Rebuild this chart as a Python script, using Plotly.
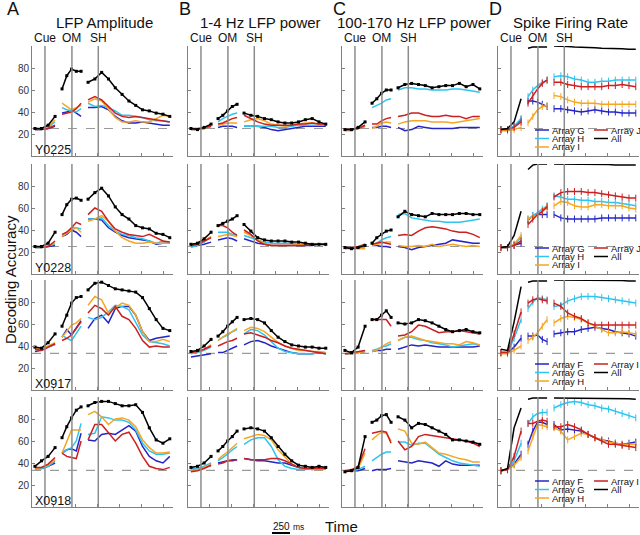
import plotly.graph_objects as go

# sample times (ms) of the three aligned epochs: cue | object movement | shape
t_cue = [40, 130, 220, 315]
t_om = [410, 475, 540, 605, 670]
t_sh = [765, 858, 951, 1044, 1137, 1230, 1323, 1416, 1509, 1602, 1695, 1788, 1881]

event_names = ['Cue', 'OM', 'SH']
event_times = [177, 545, 905]

sessions = ['Y0225', 'Y0228', 'X0917', 'X0918']
chance = [25, 25, 33.3, 33.3]
titles = ['LFP Amplitude', '1-4 Hz LFP power', '100-170 Hz LFP power', 'Spike Firing Rate']
letters = ['A', 'B', 'C', 'D']
legend_names = [
    ['Array G', 'Array H', 'Array I', 'Array J', 'All'],
    ['Array G', 'Array H', 'Array I', 'Array J', 'All'],
    ['Array F', 'Array G', 'Array H', 'Array I', 'All'],
    ['Array F', 'Array G', 'Array H', 'Array I', 'All'],
]
colors = ['#2424c8', '#2ec4f0', '#f5a623', '#cc1f1f', '#000000']

# each row: 4 cue values | 5 OM values | 13 SH values ; order blue, cyan, orange, red, black
amp_Y0225 = [
    [24, 24, 25, 27, 39, 40, 42, 39, 36, 44, 44, 45, 42, 36, 32, 30, 30, 31, 30, 29, 28, 28],
    [24, 24, 26, 31, 44, 42, 41, 40, 43, 48, 45, 46, 44, 41, 37, 37, 36, 35, 33, 32, 32, 31],
    [24, 25, 27, 33, 48, 45, 42, 44, 46, 49, 52, 50, 42, 35, 31, 31, 32, 31, 31, 34, 37, 36],
    [24, 24, 25, 28, 38, 39, 40, 43, 48, 51, 54, 51, 45, 39, 36, 35, 36, 35, 34, 33, 32, 31],
    [25, 25, 28, 36, 61, 73, 79, 77, 77, 67, 70, 76, 70, 62, 56, 50, 46, 42, 41, 39, 38, 36],
]
low_Y0225 = [
    [24, 24, 25, 27, 26, 27, 27, 27, 26, 27, 27, 27, 26, 24, 23, 24, 25, 26, 27, 27, 27, 27],
    [24, 24, 25, 28, 31, 34, 36, 38, 39, 27, 27, 27, 27, 27, 26, 26, 27, 28, 28, 28, 28, 28],
    [24, 24, 25, 27, 28, 29, 30, 30, 30, 31, 33, 34, 32, 29, 28, 27, 28, 29, 30, 30, 29, 29],
    [25, 25, 26, 27, 29, 30, 32, 34, 35, 37, 34, 31, 29, 28, 28, 28, 28, 29, 29, 30, 29, 29],
    [25, 24, 26, 29, 34, 37, 41, 45, 47, 39, 37, 36, 34, 33, 31, 30, 30, 31, 33, 34, 31, 29],
]
high_Y0225 = [
    [24, 24, 25, 27, 26, 26, 27, 27, 26, 26, 23, 24, 27, 26, 25, 25, 25, 25, 26, 26, 26, 26],
    [24, 24, 25, 28, 44, 46, 48, 51, 52, 60, 62, 62, 61, 61, 60, 60, 60, 61, 61, 60, 59, 58],
    [23, 23, 25, 27, 25, 27, 30, 31, 30, 29, 31, 32, 32, 32, 31, 31, 31, 30, 31, 32, 33, 34],
    [24, 24, 25, 28, 29, 29, 32, 34, 35, 36, 37, 39, 39, 37, 36, 36, 37, 36, 36, 34, 36, 36],
    [24, 24, 26, 31, 48, 52, 57, 60, 60, 62, 65, 66, 65, 64, 62, 63, 64, 64, 66, 63, 65, 61],
]
spk_Y0225 = [
    [24, 24, 27, 33, 50, 50, 49, 47, 45, 43, 43, 42, 41, 40, 41, 42, 41, 40, 40, 39, 39, 39],
    [24, 24, 27, 34, 54, 60, 64, 67, 69, 72, 73, 72, 70, 69, 67, 67, 68, 68, 69, 69, 69, 69],
    [23, 23, 24, 26, 30, 36, 42, 45, 46, 55, 54, 51, 49, 48, 48, 48, 47, 47, 47, 47, 47, 47],
    [24, 24, 26, 31, 48, 55, 61, 66, 69, 67, 67, 65, 64, 63, 63, 63, 63, 64, 64, 65, 64, 63],
    [24, 25, 31, 52, 98, 99, 99, 99, 99, 100, 100, 99.5, 99, 99, 98.5, 98.5, 98, 98, 97.5, 97.5, 97, 97],
]

amp_Y0228 = [
    [24, 24, 25, 26, 34, 36, 40, 38, 34, 50, 50, 49, 42, 38, 35, 33, 32, 31, 30, 27, 28, 28],
    [24, 24, 26, 27, 35, 38, 42, 42, 41, 50, 50, 51, 44, 39, 36, 35, 33, 32, 30, 28, 30, 28],
    [24, 24, 26, 28, 34, 37, 40, 42, 38, 48, 50, 53, 48, 39, 33, 30, 28, 28, 29, 28, 28, 28],
    [25, 24, 25, 30, 36, 38, 42, 47, 45, 54, 60, 57, 48, 41, 38, 36, 35, 34, 36, 33, 30, 29],
    [25, 25, 28, 38, 54, 63, 68, 69, 67, 68, 74, 78, 71, 61, 54, 50, 44, 42, 41, 37, 36, 33],
]
low_Y0228 = [
    [26, 26, 27, 29, 31, 32, 33, 32, 30, 32, 30, 28, 27, 26, 26, 26, 26, 26, 26, 26, 27, 27],
    [24, 26, 29, 34, 38, 38, 38, 36, 36, 35, 33, 31, 29, 28, 28, 28, 28, 27, 27, 27, 27, 26],
    [26, 27, 30, 34, 34, 35, 36, 35, 34, 38, 35, 31, 28, 26, 26, 26, 26, 27, 27, 27, 27, 26],
    [26, 27, 30, 33, 44, 44, 42, 38, 35, 40, 36, 30, 27, 26, 26, 26, 26, 26, 26, 27, 27, 27],
    [27, 28, 32, 38, 44, 46, 48, 50, 53, 45, 39, 33, 31, 30, 30, 30, 29, 29, 28, 27, 27, 27],
]
high_Y0228 = [
    [24, 24, 24, 25, 26, 26, 25, 25, 24, 25, 24, 22, 24, 25, 26, 27, 28, 31, 30, 29, 28, 28],
    [24, 24, 24, 25, 26, 28, 31, 33, 34, 54, 55, 51, 50, 49, 48, 48, 47, 47, 47, 48, 49, 50],
    [23, 23, 23, 23, 26, 27, 28, 29, 29, 26, 25, 25, 26, 25, 27, 25, 26, 27, 26, 25, 26, 25],
    [24, 24, 25, 27, 27, 28, 29, 28, 27, 35, 36, 35, 39, 42, 43, 42, 41, 39, 38, 38, 36, 33],
    [24, 23, 24, 26, 28, 33, 36, 39, 40, 52, 57, 54, 53, 52, 55, 54, 54, 54, 55, 55, 54, 54],
]
spk_Y0228 = [
    [24, 24, 26, 28, 49, 53, 54, 54, 54, 54, 51, 50, 50, 50, 50, 50, 51, 51, 51, 51, 51, 51],
    [24, 24, 27, 33, 50, 53, 56, 59, 62, 71, 70, 68, 68, 67, 67, 66, 66, 65, 65, 64, 63, 62],
    [24, 24, 27, 35, 50, 52, 54, 57, 61, 62, 66, 65, 62, 61, 61, 63, 63, 62, 62, 62, 60, 59],
    [24, 24, 26, 30, 45, 50, 54, 57, 61, 70, 74, 75, 75, 75, 74, 74, 73, 72, 71, 70, 69, 69],
    [24, 25, 35, 57, 95, 99, 100, 100, 100, 100, 100, 100, 100, 100, 100, 100, 99.5, 99.5, 99, 99, 99, 99],
]

amp_X0917 = [
    [35, 36, 39, 42, 48, 55, 50, 56, 63, 56, 65, 68, 61, 74, 76, 76, 68, 53, 45, 47, 48, 49],
    [37, 37, 39, 41, 50, 47, 45, 52, 58, 66, 64, 66, 71, 77, 76, 73, 62, 50, 44, 43, 42, 40],
    [38, 37, 40, 43, 48, 53, 59, 61, 65, 77, 85, 82, 70, 75, 79, 77, 68, 53, 44, 44, 46, 44],
    [37, 36, 39, 42, 45, 47, 50, 56, 62, 70, 77, 74, 68, 76, 67, 64, 56, 45, 39, 40, 39, 39],
    [39, 38, 43, 51, 58, 68, 79, 84, 85, 91, 97, 98, 95, 92, 91, 90, 89, 84, 74, 64, 56, 54],
]
low_X0917 = [
    [30, 31, 32, 33, 34, 34, 36, 38, 40, 41, 44, 45, 43, 40, 38, 36, 34, 33, 33, 33, 34, 33],
    [33, 34, 36, 39, 45, 48, 50, 53, 55, 51, 55, 54, 50, 44, 38, 35, 34, 33, 33, 33, 34, 33],
    [34, 35, 37, 41, 45, 48, 51, 53, 56, 54, 57, 56, 53, 48, 43, 40, 38, 36, 36, 35, 35, 34],
    [34, 35, 37, 40, 40, 42, 44, 45, 47, 51, 52, 50, 48, 45, 43, 40, 38, 37, 36, 35, 34, 33],
    [35, 36, 40, 46, 49, 53, 58, 62, 66, 64, 65, 64, 61, 54, 48, 44, 41, 40, 39, 39, 38, 38],
]
high_X0917 = [
    [33, 33, 34, 35, 35, 36, 36, 37, 37, 37, 39, 41, 40, 41, 40, 39, 39, 39, 39, 39, 39, 40],
    [33, 33, 34, 36, 36, 37, 39, 40, 42, 45, 48, 48, 46, 45, 43, 42, 41, 39, 40, 41, 42, 41],
    [33, 33, 34, 35, 35, 36, 39, 42, 44, 45, 48, 49, 47, 45, 44, 43, 42, 42, 41, 44, 43, 41],
    [33, 34, 35, 36, 64, 64, 64, 64, 58, 49, 50, 53, 59, 58, 55, 52, 53, 53, 54, 53, 52, 51],
    [36, 34, 39, 58, 64, 64, 68, 72, 66, 61, 60, 61, 64, 63, 61, 58, 55, 53, 54, 55, 53, 52],
]
spk_X0917 = [
    [34, 34, 39, 47, 49, 49, 50, 46, 44, 51, 52, 53, 53, 55, 56, 57, 56, 55, 53, 52, 51, 49],
    [34, 34, 47, 64, 74, 80, 84, 83, 82, 76, 77, 81, 83, 85, 85, 85, 84, 83, 82, 81, 80, 79],
    [33, 33, 36, 40, 45, 48, 52, 58, 64, 61, 65, 67, 66, 64, 61, 58, 55, 52, 52, 53, 52, 51],
    [34, 34, 51, 71, 79, 82, 83, 82, 81, 79, 76, 70, 67, 65, 61, 59, 59, 59, 59, 59, 59, 59],
    [37, 36, 62, 94, 98, 99, 99, 99, 99, 100, 100, 100, 100, 100, 99.5, 99.5, 99.5, 99.5, 99.5, 99.5, 99, 99],
]

amp_X0918 = [
    [35, 35, 37, 40, 49, 52, 53, 51, 67, 61, 60, 66, 67, 66, 70, 74, 69, 55, 46, 42, 40, 46],
    [34, 35, 37, 42, 49, 52, 54, 60, 76, 66, 67, 82, 81, 79, 79, 77, 70, 58, 51, 48, 48, 49],
    [35, 36, 38, 43, 49, 60, 70, 70, 70, 84, 87, 82, 75, 80, 81, 79, 73, 61, 54, 49, 49, 50],
    [36, 36, 39, 45, 49, 46, 45, 44, 60, 61, 75, 75, 67, 60, 66, 68, 58, 46, 37, 35, 34, 36],
    [37, 42, 46, 54, 63, 73, 81, 88, 91, 92, 95, 96, 96, 94, 92, 92, 93, 86, 72, 61, 58, 62],
]
low_X0918 = [
    [34, 35, 36, 38, 40, 41, 42, 42, 43, 44, 43, 42, 42, 41, 40, 40, 38, 36, 35, 34, 36, 35],
    [34, 35, 37, 40, 42, 45, 48, 52, 55, 57, 61, 63, 63, 55, 43, 37, 35, 34, 34, 35, 36, 36],
    [33, 34, 36, 39, 43, 47, 50, 54, 58, 62, 64, 66, 65, 61, 52, 45, 39, 36, 35, 34, 34, 34],
    [32, 33, 35, 38, 39, 40, 42, 43, 43, 44, 43, 43, 43, 44, 44, 42, 39, 36, 35, 35, 35, 35],
    [36, 37, 40, 46, 51, 55, 60, 64, 69, 71, 72, 71, 69, 63, 55, 48, 42, 38, 37, 36, 37, 36],
]
high_X0918 = [
    [33, 33, 33, 35, 33, 34, 34, 34, 35, 42, 41, 40, 42, 41, 40, 37, 42, 39, 38, 38, 38, 38],
    [33, 33, 34, 37, 42, 45, 48, 50, 50, 59, 59, 56, 58, 58, 53, 48, 45, 42, 40, 39, 38, 37],
    [33, 33, 35, 49, 61, 65, 68, 67, 60, 71, 69, 58, 57, 59, 54, 49, 48, 46, 44, 43, 41, 41],
    [33, 34, 37, 53, 67, 68, 69, 68, 58, 60, 52, 55, 64, 66, 65, 64, 63, 62, 61, 60, 58, 55],
    [32, 33, 36, 64, 77, 79, 83, 84, 77, 82, 79, 72, 76, 75, 72, 69, 66, 61, 61, 60, 59, 57],
]
spk_X0918 = [
    [33, 34, 39, 48, 57, 69, 77, 77, 75, 75, 70, 71, 70, 69, 66, 63, 61, 60, 58, 57, 58, 59],
    [33, 34, 42, 58, 76, 82, 85, 86, 86, 90, 93, 95, 96, 95, 93, 92, 90, 89, 87, 85, 83, 81],
    [33, 34, 38, 45, 51, 64, 75, 74, 73, 72, 69, 61, 64, 67, 66, 63, 61, 59, 58, 57, 57, 57],
    [33, 34, 46, 69, 76, 76, 78, 79, 78, 73, 73, 75, 73, 70, 66, 63, 60, 57, 57, 56, 55, 54],
    [33, 35, 72, 90, 98, 99, 99, 99, 99, 99, 99, 99, 99, 99, 99, 99, 98.5, 98.5, 98.5, 98.5, 98.5, 98],
]

panels = [
    [amp_Y0225, low_Y0225, high_Y0225, spk_Y0225],
    [amp_Y0228, low_Y0228, high_Y0228, spk_Y0228],
    [amp_X0917, low_X0917, high_X0917, spk_X0917],
    [amp_X0918, low_X0918, high_X0918, spk_X0918],
]

W, H = 640, 535
col_left = [32, 188, 342, 498]
row_top = [46, 164, 280, 397]
PW, PH = 141, 110
FONT = 'Liberation Sans, Arial, sans-serif'
AXC = '#808080'


def px(x):
    return x / W


def py(y):
    return 1 - y / H


fig = go.Figure()
shapes = []
annos = []

xs = t_cue + [None] + t_om + [None] + t_sh

for r in range(4):
    for c in range(4):
        k = r * 4 + c + 1
        sfx = '' if k == 1 else str(k)
        xa, ya = 'x' + sfx, 'y' + sfx
        fig.update_layout({
            'xaxis' + sfx: dict(domain=[px(col_left[c]), px(col_left[c] + PW)], range=[0, 1925],
                                anchor=ya, showline=True, linecolor=AXC, linewidth=1,
                                ticks='inside', ticklen=3, tickcolor=AXC,
                                tickvals=[300, 600, 900, 1200, 1500, 1800],
                                showticklabels=False, showgrid=False, zeroline=False),
            'yaxis' + sfx: dict(domain=[py(row_top[r] + PH), py(row_top[r])], range=[0, 100],
                                anchor=xa, showline=True, linecolor=AXC, linewidth=1,
                                ticks='inside', ticklen=3, tickcolor=AXC,
                                tickvals=[20, 40, 60, 80], showticklabels=(c == 0),
                                tickfont=dict(size=10, color='#333'),
                                showgrid=False, zeroline=False),
        })

        # chance level
        shapes.append(dict(type='line', xref=xa + ' domain', yref=ya, x0=0, x1=1,
                           y0=chance[r], y1=chance[r], layer='below',
                           line=dict(color='#9a9a9a', width=1.2, dash='dash')))
        # event markers
        for t in event_times:
            shapes.append(dict(type='line', xref=xa, yref=ya + ' domain', x0=t, x1=t, y0=0, y1=1,
                               line=dict(color='#8c8c8c', width=1.5)))

        for i, series in enumerate(panels[r][c]):
            ys = series[:4] + [None] + series[4:9] + [None] + series[9:]
            black = (i == 4)
            if c == 3:
                mk = dict(symbol='line-ns-open', size=5, line=dict(width=1, color=colors[i])) if not black else None
                mode = 'lines' if black else 'lines+markers'
            else:
                mk = dict(symbol='square', size=3, color=colors[i]) if black else None
                mode = 'lines+markers' if black else 'lines'
            fig.add_trace(go.Scatter(x=xs, y=ys, mode=mode, marker=mk, xaxis=xa, yaxis=ya,
                                     line=dict(color=colors[i], width=1.5),
                                     connectgaps=False, hoverinfo='skip'))

        if c == 0:
            annos.append(dict(text=sessions[r], x=px(col_left[0] + 1), y=py(row_top[r] + PH - 6),
                              xanchor='left', yanchor='middle', font=dict(size=12.5, color='#111')))

        if c == 3:
            names = legend_names[r]
            rows_y = [row_top[r] + 84, row_top[r] + 92.5, row_top[r] + 101]
            spots = [(535, rows_y[0]), (535, rows_y[1]), (535, rows_y[2]), (594, rows_y[0]), (594, rows_y[1])]
            for i, (lx, ly) in enumerate(spots):
                shapes.append(dict(type='line', xref='paper', yref='paper', x0=px(lx), x1=px(lx + 14),
                                   y0=py(ly), y1=py(ly), line=dict(color=colors[i], width=1.5)))
                annos.append(dict(text=names[i], x=px(lx + 15), y=py(ly), xanchor='left', yanchor='middle',
                                  font=dict(size=9.5, color='#111')))

# column headers
for c in range(4):
    annos.append(dict(text=titles[c], x=px(col_left[c] + 72), y=py(22), xanchor='center', yanchor='middle',
                      font=dict(size=15, color='#111')))
    annos.append(dict(text=letters[c], x=px(col_left[c] - 27 if c == 0 else col_left[c] - 11), y=py(9),
                      xanchor='left', yanchor='middle', font=dict(size=18, color='#111')))
    for name, t in zip(event_names, event_times):
        annos.append(dict(text=name, x=px(col_left[c] + t * PW / 1925), y=py(38), xanchor='center',
                          yanchor='middle', font=dict(size=12, color='#111')))

annos.append(dict(text='Decoding Accuracy', x=px(10), y=py(280), textangle=-90, xanchor='center',
                  yanchor='middle', font=dict(size=15, color='#111')))
annos.append(dict(text='Time', x=px(323), y=py(526), xanchor='left', yanchor='middle',
                  font=dict(size=15, color='#111')))
annos.append(dict(text='250', x=px(271), y=py(526), xanchor='left', yanchor='middle',
                  font=dict(size=10, color='#111')))
annos.append(dict(text='ms', x=px(291), y=py(527), xanchor='left', yanchor='middle',
                  font=dict(size=8.5, color='#111')))
shapes.append(dict(type='line', xref='paper', yref='paper', x0=px(272), x1=px(290), y0=py(533), y1=py(533),
                   line=dict(color='#000', width=2)))

for a in annos:
    a.update(xref='paper', yref='paper', showarrow=False)

fig.update_layout(width=W, height=H, margin=dict(l=0, r=0, t=0, b=0), showlegend=False,
                  paper_bgcolor='white', plot_bgcolor='white', font=dict(family=FONT),
                  shapes=shapes, annotations=annos)

# the page's default body margin would push the 640x535 figure out of the window
fig.write_html('out.html', config={'displayModeBar': False},
               post_script="document.body.style.margin='0';document.body.style.overflow='hidden';")
